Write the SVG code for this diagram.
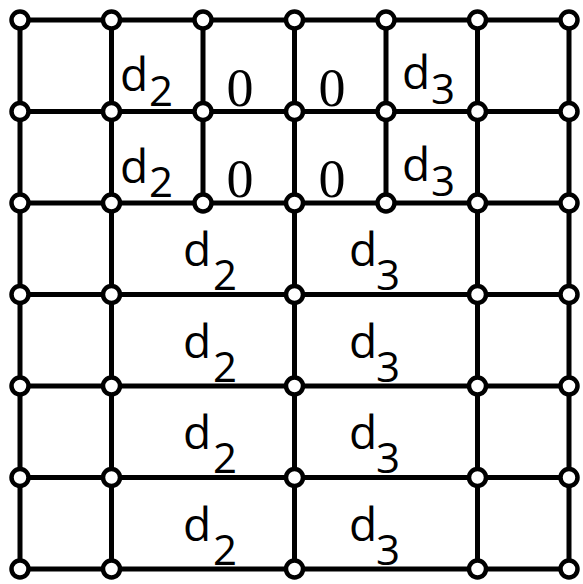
<svg xmlns="http://www.w3.org/2000/svg" width="583" height="584" viewBox="0 0 583 584">
<style>
.e{stroke:#000;stroke-width:5;fill:none;stroke-linecap:butt}
.n{fill:#fff;stroke:#000;stroke-width:4.5}
.l{font-family:"Open Sans","Noto Sans",sans-serif;font-size:46px;fill:#000}
.s{font-size:42px}
.z{font-family:"Liberation Serif",serif;font-size:54px;fill:#000}
</style>
<rect width="583" height="584" fill="#fff"/>
<g id="connectors">
<path class="e" d="M20 20H569M20 111.5H569M20 203H569M20 294.5H569M20 386H569M20 477.5H569M20 569H569"/>
<path class="e" d="M20 20V569M111.5 20V569M294.5 20V569M477.5 20V569M569 20V569M203 20V203M386 20V203"/>
</g>
<g id="nodes">
<g id="n0"><circle class="n" cx="20" cy="20" r="8.5"/><circle class="n" cx="111.5" cy="20" r="8.5"/><circle class="n" cx="203" cy="20" r="8.5"/><circle class="n" cx="294.5" cy="20" r="8.5"/><circle class="n" cx="386" cy="20" r="8.5"/><circle class="n" cx="477.5" cy="20" r="8.5"/><circle class="n" cx="569" cy="20" r="8.5"/></g>
<g id="n1"><circle class="n" cx="20" cy="111.5" r="8.5"/><circle class="n" cx="111.5" cy="111.5" r="8.5"/><circle class="n" cx="203" cy="111.5" r="8.5"/><circle class="n" cx="294.5" cy="111.5" r="8.5"/><circle class="n" cx="386" cy="111.5" r="8.5"/><circle class="n" cx="477.5" cy="111.5" r="8.5"/><circle class="n" cx="569" cy="111.5" r="8.5"/></g>
<g id="n2"><circle class="n" cx="20" cy="203" r="8.5"/><circle class="n" cx="111.5" cy="203" r="8.5"/><circle class="n" cx="203" cy="203" r="8.5"/><circle class="n" cx="294.5" cy="203" r="8.5"/><circle class="n" cx="386" cy="203" r="8.5"/><circle class="n" cx="477.5" cy="203" r="8.5"/><circle class="n" cx="569" cy="203" r="8.5"/></g>
<g id="n3"><circle class="n" cx="20" cy="294.5" r="8.5"/><circle class="n" cx="111.5" cy="294.5" r="8.5"/><circle class="n" cx="294.5" cy="294.5" r="8.5"/><circle class="n" cx="477.5" cy="294.5" r="8.5"/><circle class="n" cx="569" cy="294.5" r="8.5"/></g>
<g id="n4"><circle class="n" cx="20" cy="386" r="8.5"/><circle class="n" cx="111.5" cy="386" r="8.5"/><circle class="n" cx="294.5" cy="386" r="8.5"/><circle class="n" cx="477.5" cy="386" r="8.5"/><circle class="n" cx="569" cy="386" r="8.5"/></g>
<g id="n5"><circle class="n" cx="20" cy="477.5" r="8.5"/><circle class="n" cx="111.5" cy="477.5" r="8.5"/><circle class="n" cx="294.5" cy="477.5" r="8.5"/><circle class="n" cx="477.5" cy="477.5" r="8.5"/><circle class="n" cx="569" cy="477.5" r="8.5"/></g>
<g id="n6"><circle class="n" cx="20" cy="569" r="8.5"/><circle class="n" cx="111.5" cy="569" r="8.5"/><circle class="n" cx="294.5" cy="569" r="8.5"/><circle class="n" cx="477.5" cy="569" r="8.5"/><circle class="n" cx="569" cy="569" r="8.5"/></g>
</g>
<g id="labels">
<text class="l"><tspan x="120" y="91">d</tspan><tspan class="s" x="149" y="106">2</tspan></text>
<text class="l"><tspan x="120" y="183">d</tspan><tspan class="s" x="149" y="197">2</tspan></text>
<text class="z" x="240" y="106" text-anchor="middle">0</text>
<text class="z" x="332" y="106" text-anchor="middle">0</text>
<text class="z" x="240" y="197" text-anchor="middle">0</text>
<text class="z" x="332" y="197" text-anchor="middle">0</text>
<text class="l"><tspan x="402" y="89">d</tspan><tspan class="s" x="431" y="104">3</tspan></text>
<text class="l"><tspan x="402" y="181">d</tspan><tspan class="s" x="431" y="196">3</tspan></text>
<text class="l"><tspan x="183" y="266">d</tspan><tspan class="s" x="213" y="290">2</tspan></text>
<text class="l"><tspan x="349" y="266">d</tspan><tspan class="s" x="376" y="290">3</tspan></text>
<text class="l"><tspan x="183" y="358">d</tspan><tspan class="s" x="213" y="382">2</tspan></text>
<text class="l"><tspan x="349" y="358">d</tspan><tspan class="s" x="376" y="382">3</tspan></text>
<text class="l"><tspan x="183" y="449">d</tspan><tspan class="s" x="213" y="473">2</tspan></text>
<text class="l"><tspan x="349" y="449">d</tspan><tspan class="s" x="376" y="473">3</tspan></text>
<text class="l"><tspan x="183" y="541">d</tspan><tspan class="s" x="213" y="565">2</tspan></text>
<text class="l"><tspan x="349" y="541">d</tspan><tspan class="s" x="376" y="565">3</tspan></text>
</g>
</svg>
